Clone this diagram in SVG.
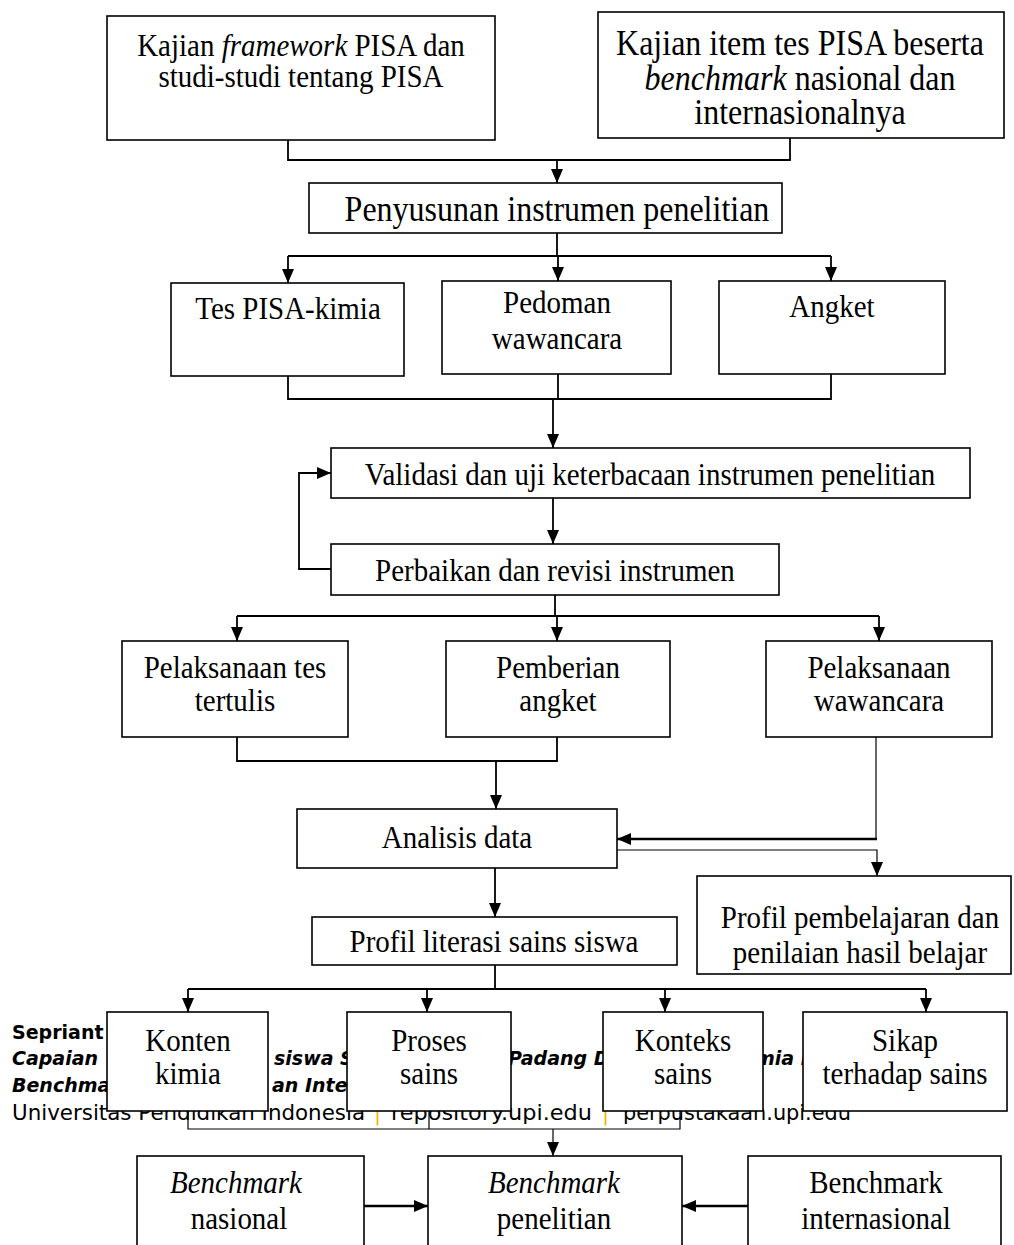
<svg xmlns="http://www.w3.org/2000/svg" width="1014" height="1245" viewBox="0 0 1014 1245">
<defs>
<style>
.box{fill:#fff;stroke:#000;stroke-width:1.6}
.t{font-family:"Liberation Serif","Times New Roman",serif;font-size:29px;fill:#000;text-anchor:middle}
.big{font-size:32px}
.i{font-style:italic}
.c{fill:none;stroke:#000;stroke-width:1.8}
.th{fill:none;stroke:#000;stroke-width:1.2}
.tk{fill:none;stroke:#000;stroke-width:2.6}
.a{marker-end:url(#ah)}
.f{font-family:"DejaVu Sans","Verdana",sans-serif;font-size:19px;fill:#000}
.fb{font-weight:bold}
.fbi{font-weight:bold;font-style:italic}
.fr{font-size:21px}
.sep{fill:#f2b705}
</style>
<marker id="ah" markerUnits="userSpaceOnUse" markerWidth="14" markerHeight="14" viewBox="0 0 14 14" refX="14" refY="7" orient="auto"><path d="M0,1 L14,7 L0,13 z" fill="#000"/></marker>
</defs>
<rect width="1014" height="1245" fill="#fff"/>

<g id="footer">
<text class="f fb" x="12" y="1039">Sepriant</text>
<text class="f fbi" x="12" y="1065">Capaian</text>
<text class="f fbi" x="274" y="1065">siswa S</text>
<text class="f fbi" x="508" y="1065">Padang D</text>
<text class="f fbi" x="755" y="1065">mia D</text>
<text class="f fbi" x="12" y="1092">Benchmark</text>
<text class="f fbi" x="272" y="1092">an Inter</text>
<text class="f fr" x="12" y="1120" textLength="353" lengthAdjust="spacingAndGlyphs">Universitas Pendidikan Indonesia</text>
<text class="f fr sep" x="374" y="1120">|</text>
<text class="f fr" x="391" y="1120" textLength="201" lengthAdjust="spacingAndGlyphs">repository.upi.edu</text>
<text class="f fr sep" x="602" y="1120">|</text>
<text class="f fr" x="623" y="1120" textLength="228" lengthAdjust="spacingAndGlyphs">perpustakaan.upi.edu</text>
</g>

<g id="connectors">
<path class="c" d="M288,140 V160 H790 V138"/>
<path class="c a" d="M557,160 V183"/>
<path class="c" d="M557,233 V256 M288,256 H831"/>
<path class="c a" d="M288,256 V283"/>
<path class="c a" d="M558,256 V281"/>
<path class="c a" d="M831,256 V281"/>
<path class="c" d="M288,376 V399 H831 V374 M558,374 V399"/>
<path class="c a" d="M553,399 V448"/>
<path class="c a" d="M553,498 V544"/>
<path class="c a" d="M331,569 H299 V473 H331"/>
<path class="c" d="M555,595 V616 M237,616 H879"/>
<path class="c a" d="M237,616 V641"/>
<path class="c a" d="M557,616 V641"/>
<path class="c a" d="M879,616 V641"/>
<path class="c" d="M237,737 V761 H557 V737"/>
<path class="c a" d="M496,761 V809"/>
<path class="th" d="M876,737 V839"/>
<path class="tk a" d="M877,839 H617"/>
<path class="th a" d="M617,850 H877 V876"/>
<path class="c a" d="M495,868 V917"/>
<path class="c" d="M495,965 V989 M188,989 H926"/>
<path class="c a" d="M188,989 V1012"/>
<path class="c a" d="M427,989 V1012"/>
<path class="c a" d="M665,989 V1012"/>
<path class="c a" d="M926,989 V1012"/>
<path class="th" d="M188,1111 V1129 H680 V1111 M429,1111 V1129"/>
<path class="th a" d="M553,1129 V1156"/>
<path class="tk a" d="M364,1206 H428"/>
<path class="tk a" d="M748,1206 H682"/>
</g>

<g id="n-kajian-framework">
<rect class="box" x="107" y="16" width="388" height="124"/>
<text class="t" transform="matrix(1,0,0,1.12,0,-6.72)" x="301" y="56">Kajian <tspan class="i">framework</tspan> PISA dan</text>
<text class="t" transform="matrix(1,0,0,1.12,0,-10.44)" x="301" y="87">studi-studi tentang PISA</text>
</g>
<g id="n-kajian-item">
<rect class="box" x="598" y="12" width="406" height="126"/>
<text class="t big" transform="matrix(1,0,0,1.12,0,-6.6)" x="800" y="55">Kajian item tes PISA beserta</text>
<text class="t big" transform="matrix(1,0,0,1.12,0,-10.8)" x="800" y="90"><tspan class="i">benchmark</tspan> nasional dan</text>
<text class="t big" transform="matrix(1,0,0,1.12,0,-14.88)" x="800" y="124">internasionalnya</text>
</g>
<g id="n-penyusunan">
<rect class="box" x="309" y="183" width="473" height="50"/>
<text class="t big" transform="matrix(1,0,0,1.12,0,-26.52)" x="557" y="221">Penyusunan instrumen penelitian</text>
</g>
<g id="n-tes-pisa">
<rect class="box" x="171" y="283" width="233" height="93"/>
<text class="t" transform="matrix(1,0,0,1.12,0,-38.28)" x="288" y="319">Tes PISA-kimia</text>
</g>
<g id="n-pedoman">
<rect class="box" x="442" y="281" width="229" height="93"/>
<text class="t" transform="matrix(1,0,0,1.12,0,-37.56)" x="557" y="313">Pedoman</text>
<text class="t" transform="matrix(1,0,0,1.12,0,-41.88)" x="557" y="349">wawancara</text>
</g>
<g id="n-angket">
<rect class="box" x="719" y="281" width="226" height="93"/>
<text class="t" transform="matrix(1,0,0,1.12,0,-38.04)" x="832" y="317">Angket</text>
</g>
<g id="n-validasi">
<rect class="box" x="331" y="448" width="639" height="50"/>
<text class="t" transform="matrix(1,0,0,1.12,0,-58.2)" x="650" y="485">Validasi dan uji keterbacaan instrumen penelitian</text>
</g>
<g id="n-perbaikan">
<rect class="box" x="331" y="544" width="448" height="51"/>
<text class="t" transform="matrix(1,0,0,1.12,0,-69.72)" x="555" y="581">Perbaikan dan revisi instrumen</text>
</g>
<g id="n-pelaksanaan-tes">
<rect class="box" x="122" y="641" width="226" height="96"/>
<text class="t" transform="matrix(1,0,0,1.12,0,-81.36)" x="235" y="678">Pelaksanaan tes</text>
<text class="t" transform="matrix(1,0,0,1.12,0,-85.32)" x="235" y="711">tertulis</text>
</g>
<g id="n-pemberian">
<rect class="box" x="446" y="641" width="224" height="96"/>
<text class="t" transform="matrix(1,0,0,1.12,0,-81.36)" x="558" y="678">Pemberian</text>
<text class="t" transform="matrix(1,0,0,1.12,0,-85.32)" x="558" y="711">angket</text>
</g>
<g id="n-pelaksanaan-wawancara">
<rect class="box" x="766" y="641" width="226" height="96"/>
<text class="t" transform="matrix(1,0,0,1.12,0,-81.36)" x="879" y="678">Pelaksanaan</text>
<text class="t" transform="matrix(1,0,0,1.12,0,-85.32)" x="879" y="711">wawancara</text>
</g>
<g id="n-analisis">
<rect class="box" x="297" y="809" width="320" height="59"/>
<text class="t" transform="matrix(1,0,0,1.12,0,-101.76)" x="457" y="848">Analisis data</text>
</g>
<g id="n-profil-pembelajaran">
<rect class="box" x="697" y="876" width="314" height="98"/>
<text class="t" transform="matrix(1,0,0,1.12,0,-111.36)" x="860" y="928">Profil pembelajaran dan</text>
<text class="t" transform="matrix(1,0,0,1.12,0,-115.56)" x="860" y="963">penilaian hasil belajar</text>
</g>
<g id="n-profil-literasi">
<rect class="box" x="312" y="917" width="365" height="48"/>
<text class="t" transform="matrix(1,0,0,1.12,0,-114.24)" x="494" y="952">Profil literasi sains siswa</text>
</g>
<g id="n-konten">
<rect class="box" x="107" y="1012" width="161" height="99"/>
<text class="t" transform="matrix(1,0,0,1.12,0,-126.12)" x="188" y="1051">Konten</text>
<text class="t" transform="matrix(1,0,0,1.12,0,-130.08)" x="188" y="1084">kimia</text>
</g>
<g id="n-proses">
<rect class="box" x="347" y="1012" width="164" height="99"/>
<text class="t" transform="matrix(1,0,0,1.12,0,-126.12)" x="429" y="1051">Proses</text>
<text class="t" transform="matrix(1,0,0,1.12,0,-130.08)" x="429" y="1084">sains</text>
</g>
<g id="n-konteks">
<rect class="box" x="603" y="1012" width="160" height="99"/>
<text class="t" transform="matrix(1,0,0,1.12,0,-126.12)" x="683" y="1051">Konteks</text>
<text class="t" transform="matrix(1,0,0,1.12,0,-130.08)" x="683" y="1084">sains</text>
</g>
<g id="n-sikap">
<rect class="box" x="803" y="1012" width="204" height="99"/>
<text class="t" transform="matrix(1,0,0,1.12,0,-126.12)" x="905" y="1051">Sikap</text>
<text class="t" transform="matrix(1,0,0,1.12,0,-130.08)" x="905" y="1084">terhadap sains</text>
</g>
<g id="n-benchmark-nasional">
<rect class="box" x="137" y="1156" width="227" height="100"/>
<text class="t i" transform="matrix(1,0,0,1.12,0,-143.16)" x="236" y="1193">Benchmark</text>
<text class="t" transform="matrix(1,0,0,1.12,0,-147.48)" x="239" y="1229">nasional</text>
</g>
<g id="n-benchmark-penelitian">
<rect class="box" x="428" y="1156" width="254" height="100"/>
<text class="t i" transform="matrix(1,0,0,1.12,0,-143.16)" x="554" y="1193">Benchmark</text>
<text class="t" transform="matrix(1,0,0,1.12,0,-147.48)" x="554" y="1229">penelitian</text>
</g>
<g id="n-benchmark-internasional">
<rect class="box" x="748" y="1156" width="253" height="100"/>
<text class="t" transform="matrix(1,0,0,1.12,0,-143.16)" x="876" y="1193">Benchmark</text>
<text class="t" transform="matrix(1,0,0,1.12,0,-147.48)" x="876" y="1229">internasional</text>
</g>
</svg>
